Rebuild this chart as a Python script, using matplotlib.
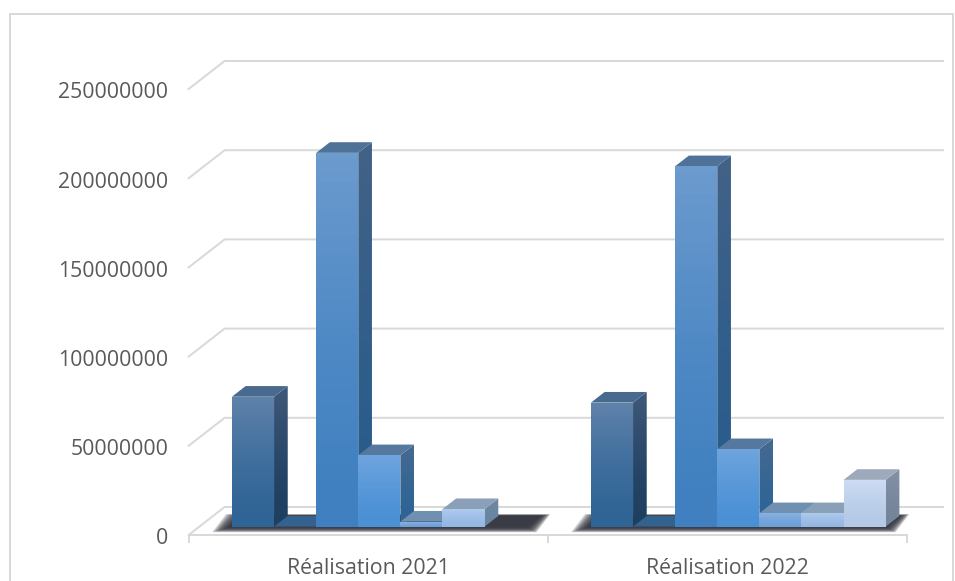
import numpy as np
import matplotlib
matplotlib.use('Agg')
import matplotlib.pyplot as plt
from matplotlib.colors import LinearSegmentedColormap
from matplotlib.patches import Polygon, Rectangle
from matplotlib.transforms import ScaledTranslation

plt.rcParams['font.family'] = ['Open Sans', 'DejaVu Sans']

categories = ['Réalisation 2021', 'Réalisation 2022']
yticks = [0, 50000000, 100000000, 150000000, 200000000, 250000000]

# one list per series, nan means nothing to draw for that year
s1 = [72800000, 69500000]
s2 = [0, 0]
s3 = [209500000, 202000000]
s4 = [40000000, 43400000]
s5 = [2800000, 7500000]
s6 = [9800000, 7500000]
s7 = [np.nan, 26200000]
series = [s1, s2, s3, s4, s5, s6, s7]

# (front top, front bottom, side top, side bottom, roof)
colors = [
    ('#5f82aa', '#2f6496', '#40597a', '#1e3f60', '#486a8e'),
    ('#34628f', '#34628f', '#34628f', '#34628f', '#34628f'),
    ('#6c9bce', '#4080c0', '#436287', '#285c8c', '#4f7299'),
    ('#6fa5df', '#4a90d5', '#476a90', '#2c6496', '#55789f'),
    ('#88b1e2', '#6d9fd9', '#6788aa', '#5d81a6', '#6f90b0'),
    ('#b0cbec', '#94b8e4', '#70889f', '#6885a3', '#8a9fb8'),
    ('#cddcf2', '#b4c9e6', '#8492a6', '#748499', '#9eaabb'),
]

GRID = '#d9d9d9'
TEXT = '#595959'
BAR_W = 0.1173
GAP = 0.0895
# full floor depth in axis units, bars stand in the middle part of it
DX = 0.1003
DY = 15700000
D0, D1 = 0.30, 0.68


def gradient_poly(ax, pts, top, bottom):
    pts = np.array(pts)
    cmap = LinearSegmentedColormap.from_list('g', [bottom, top])
    # stays near the bottom colour for longer, lightens towards the top
    grad = (np.linspace(0, 1, 64) ** 1.5).reshape(-1, 1)
    ext = [pts[:, 0].min(), pts[:, 0].max(), pts[:, 1].min(), pts[:, 1].max()]
    im = ax.imshow(grad, cmap=cmap, extent=ext, origin='lower', aspect='auto', zorder=3)
    im.set_clip_path(Polygon(pts, closed=True, transform=ax.transData))


def draw_bar(ax, x, v, cols):
    ft, fb, st, sb, roof = cols
    x0 = x + D0 * DX
    x1 = x0 + BAR_W
    y0 = D0 * DY
    y1 = y0 + v
    ddx = (D1 - D0) * DX
    ddy = (D1 - D0) * DY
    if v > 0:
        gradient_poly(ax, [(x1, y0), (x1 + ddx, y0 + ddy), (x1 + ddx, y1 + ddy), (x1, y1)], st, sb)
    ax.add_patch(Polygon([(x0, y1), (x1, y1), (x1 + ddx, y1 + ddy), (x0 + ddx, y1 + ddy)],
                         facecolor=roof, edgecolor='none', zorder=3))
    if v > 0:
        gradient_poly(ax, [(x0, y0), (x1, y0), (x1, y1), (x0, y1)], ft, fb)


def draw_shadow(ax, x):
    # soft dark patch on the floor below a group of bars, stacked layers fake the blur
    x0 = x + D0 * DX
    x1 = x0 + 7 * BAR_W
    ddx = (D1 - D0) * DX
    ddy = (D1 - D0) * DY
    yf = D0 * DY
    for e in np.linspace(1, 0, 30):
        left = 0.006 + 0.05 * e
        right = 0.028 * e
        front = 200000 + 3000000 * e
        back = 1000000 * e
        pts = [(x0 - left, yf - front), (x1 + right, yf - front),
               (x1 + ddx + right, yf + ddy + back), (x0 + ddx - left, yf + ddy + back)]
        ax.add_patch(Polygon(pts, facecolor='#31353d', edgecolor='none', alpha=0.09,
                             zorder=2, clip_on=False))


fig = plt.figure(figsize=(9.55, 5.81), dpi=100)
fig.patches.append(Rectangle((9.5 / 955, -0.01), 943 / 955, 1.01 - 14 / 581, transform=fig.transFigure,
                             facecolor='none', edgecolor=GRID, linewidth=1.44))
ax = fig.add_axes([189 / 955, (581 - 535) / 581, 718 / 955, 446 / 581])

# back wall gridlines and the floor
for t in yticks:
    ax.plot([-0.001, DX - 0.001, 2 + DX], [t, t + DY, t + DY], color=GRID, lw=1.44,
            clip_on=False, zorder=1, solid_joinstyle='miter')

for i in range(len(categories)):
    draw_shadow(ax, i + GAP)
    for j, s in enumerate(series):
        if not np.isnan(s[i]):
            draw_bar(ax, i + GAP + j * BAR_W, s[i], colors[j])

ax.set_xlim(0, 2)
ax.set_ylim(0, 250000000)

for name in ['top', 'left', 'right']:
    ax.spines[name].set_visible(False)
ax.spines['bottom'].set_color(GRID)
ax.spines['bottom'].set_linewidth(1.44)

ax.set_yticks(yticks)
ax.set_yticklabels([str(t) for t in yticks], va='center')
ax.tick_params(axis='y', length=0, pad=15, labelsize=15.3, labelcolor=TEXT)
ax.set_xticks([0, 1, 2])
ax.set_xticklabels([])
ax.set_xticks([0.5, 1.5], minor=True)
ax.set_xticklabels(categories, minor=True)
ax.tick_params(axis='x', which='major', length=5.5, width=1.44, color=GRID)
ax.tick_params(axis='x', which='minor', length=0, pad=16.5, labelsize=15.3, labelcolor=TEXT)

# nudge the value labels down a little
nudge = ScaledTranslation(0, -4 / 100, fig.dpi_scale_trans)
for label in ax.get_yticklabels():
    label.set_transform(label.get_transform() + nudge)

fig.savefig('out.png', dpi=100)
